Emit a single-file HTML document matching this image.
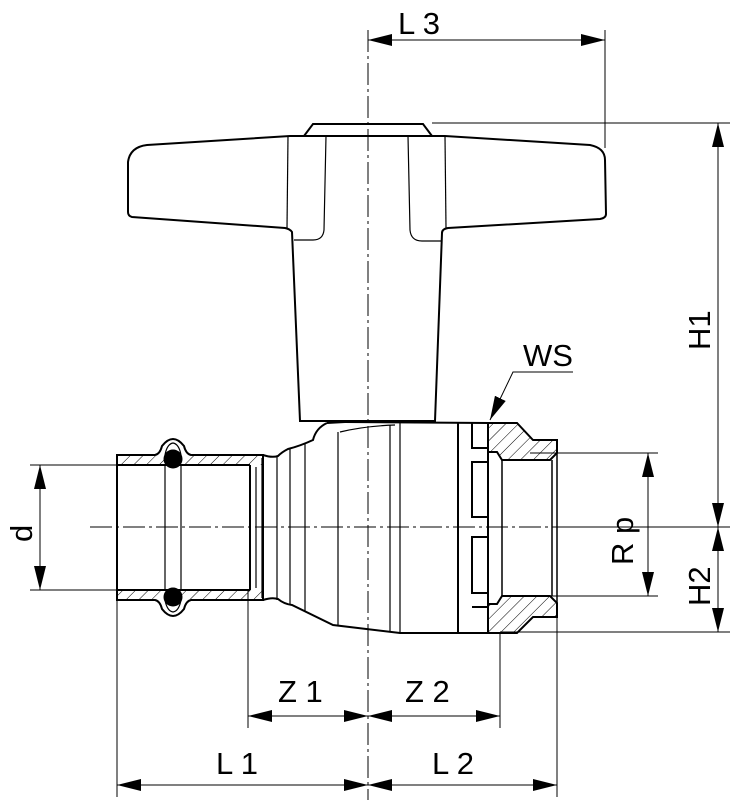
<!DOCTYPE html>
<html><head><style>body{margin:0;background:#fff}svg{display:block}text{font-family:"Liberation Sans",sans-serif;font-size:31px}</style></head>
<body>
<svg width="730" height="800" viewBox="0 0 730 800" xmlns="http://www.w3.org/2000/svg">
<defs>
<marker id="a" viewBox="0 0 24 12" refX="24" refY="6" markerWidth="24" markerHeight="12" markerUnits="userSpaceOnUse" orient="auto-start-reverse"><path d="M0,0L24,6L0,12z" fill="#000"/></marker>
<pattern id="h" patternUnits="userSpaceOnUse" width="9" height="9" patternTransform="rotate(45)"><line x1="0" y1="0" x2="0" y2="9" stroke="#000" stroke-width="1"/></pattern>
</defs>
<g fill="none" stroke="#000" stroke-width="1">
<line x1="368" y1="30" x2="368" y2="800" stroke-dasharray="22,4,3,4"/>
<line x1="90" y1="527" x2="700" y2="527" stroke-dasharray="22,4,3,4"/>
<line x1="605" y1="30" x2="605" y2="148"/>
<line x1="432" y1="123" x2="730" y2="123"/>
<line x1="555" y1="527" x2="730" y2="527"/>
<line x1="500" y1="632" x2="730" y2="632"/>
<line x1="530" y1="453" x2="658" y2="453"/>
<line x1="530" y1="596" x2="658" y2="596"/>
<line x1="30" y1="465" x2="117" y2="465"/>
<line x1="30" y1="590" x2="117" y2="590"/>
<line x1="248" y1="590" x2="248" y2="728"/>
<line x1="500" y1="632" x2="500" y2="728"/>
<line x1="117" y1="600" x2="117" y2="797"/>
<line x1="557" y1="455" x2="557" y2="797"/>
<line x1="368" y1="40" x2="605" y2="40" marker-start="url(#a)" marker-end="url(#a)"/>
<line x1="718" y1="123" x2="718" y2="527" marker-start="url(#a)" marker-end="url(#a)"/>
<line x1="718" y1="527" x2="718" y2="632" marker-start="url(#a)" marker-end="url(#a)"/>
<line x1="648" y1="453" x2="648" y2="596" marker-start="url(#a)" marker-end="url(#a)"/>
<line x1="40" y1="465" x2="40" y2="590" marker-start="url(#a)" marker-end="url(#a)"/>
<line x1="248" y1="716" x2="368" y2="716" marker-start="url(#a)" marker-end="url(#a)"/>
<line x1="368" y1="716" x2="500" y2="716" marker-start="url(#a)" marker-end="url(#a)"/>
<line x1="117" y1="785" x2="368" y2="785" marker-start="url(#a)" marker-end="url(#a)"/>
<line x1="368" y1="785" x2="557" y2="785" marker-start="url(#a)" marker-end="url(#a)"/>
<polyline points="573,372 513,372 490,420" marker-end="url(#a)"/>
</g>
<g fill="none" stroke="#000" stroke-width="2">
<path d="M304,136 L313,124 L423,124 L432,136"/>
<path d="M300,421 L292,232 Q290,229 285,228 L132,217 Q128,216 128,212 L128,162 Q130,147 147,145 L290,136 L445,136 L590,145 Q605,148 605,160 L606,214 Q606,218 600,219 L448,228 Q442,229 442,233 L435,421 Z"/>
</g>
<g fill="none" stroke="#000" stroke-width="1.2">
<path d="M288,136 L287,228"/><path d="M326,136 L324,230 Q323,240 313,240 L294,240"/>
<path d="M408,136 L410,230 Q411,241 422,241 L441,241"/><path d="M445,136 L446,228"/>
</g>
<rect x="118" y="456" width="145" height="9" fill="url(#h)"/>
<rect x="118" y="590" width="145" height="9" fill="url(#h)"/>
<g fill="none" stroke="#000" stroke-width="2">
<path d="M327,423 Q316,428 313,440 Q300,446 288,449 Q282,452 278,456 Q272,458 263,455"/>
<path d="M345,422 L488,423"/>
<path d="M327,423 L345,422"/>
<path d="M263,600 Q272,597 278,599 Q284,604 292,605 L333,625 L400,633 L488,633"/>
<path d="M117,455 L155,455 Q160,454 162,446 Q173,432 184,446 Q186,454 191,455 L263,455 L263,600 L191,600 Q186,601 184,609 Q173,623 162,609 Q160,601 155,600 L117,600 Z"/>
<line x1="117" y1="465" x2="250" y2="465"/><line x1="117" y1="590" x2="250" y2="590"/>
<line x1="250" y1="465" x2="250" y2="590"/>
<path d="M165,455 Q167,444 173,443 Q179,444 181,455" stroke-width="1.2"/>
<path d="M165,600 Q167,611 173,612 Q179,611 181,600" stroke-width="1.2"/>
</g>
<g stroke="#000" stroke-width="1.2" fill="none">
<line x1="165" y1="465" x2="165" y2="590"/><line x1="181" y1="465" x2="181" y2="590"/>
<line x1="256" y1="467" x2="256" y2="588"/><line x1="262" y1="458" x2="262" y2="598"/>
<line x1="277" y1="456" x2="277" y2="600"/>
<line x1="290" y1="449" x2="290" y2="605"/>
<line x1="305" y1="444" x2="305" y2="612"/><line x1="338" y1="432" x2="338" y2="626"/>
<path d="M340,432 Q365,426 395,425"/>
<line x1="390" y1="425" x2="390" y2="632"/><line x1="400" y1="423" x2="400" y2="633"/>
</g>
<circle cx="173" cy="459" r="9.5"/><circle cx="173" cy="597" r="9.5"/>
<g fill="none" stroke="#000" stroke-width="2">
<line x1="458" y1="423" x2="458" y2="633"/>
<path d="M472,423 L472,448 L488,448 M472,462 L488,462 L488,517 L472,517 Z M472,537 L488,537 L488,593 L472,593 Z M472,607 L488,607 L488,633"/>
<line x1="488" y1="423" x2="488" y2="633"/>
</g>
<path d="M488,423 L517,423 L533,440 L557,440 L557,453 L550,460 L502,460 L497,452 L488,452 Z" fill="url(#h)" stroke="#000" stroke-width="2"/>
<path d="M488,633 L517,633 L533,617 L557,617 L557,603 L550,596 L502,596 L497,604 L488,604 Z" fill="url(#h)" stroke="#000" stroke-width="2"/>
<g stroke="#000" stroke-width="1.5"><line x1="502" y1="460" x2="502" y2="596"/><line x1="552" y1="460" x2="552" y2="596"/><line x1="557" y1="453" x2="557" y2="603"/></g>
<text x="398" y="34">L 3</text>
<text x="523" y="366">WS</text>
<text x="278" y="702">Z 1</text>
<text x="405" y="702">Z 2</text>
<text x="216" y="774">L 1</text>
<text x="432" y="774">L 2</text>
<text transform="translate(710,350) rotate(-90)">H1</text>
<text transform="translate(710,606) rotate(-90)">H2</text>
<text transform="translate(633,565) rotate(-90)">R p</text>
<text transform="translate(32,542) rotate(-90)">d</text>
</svg>
</body></html>
